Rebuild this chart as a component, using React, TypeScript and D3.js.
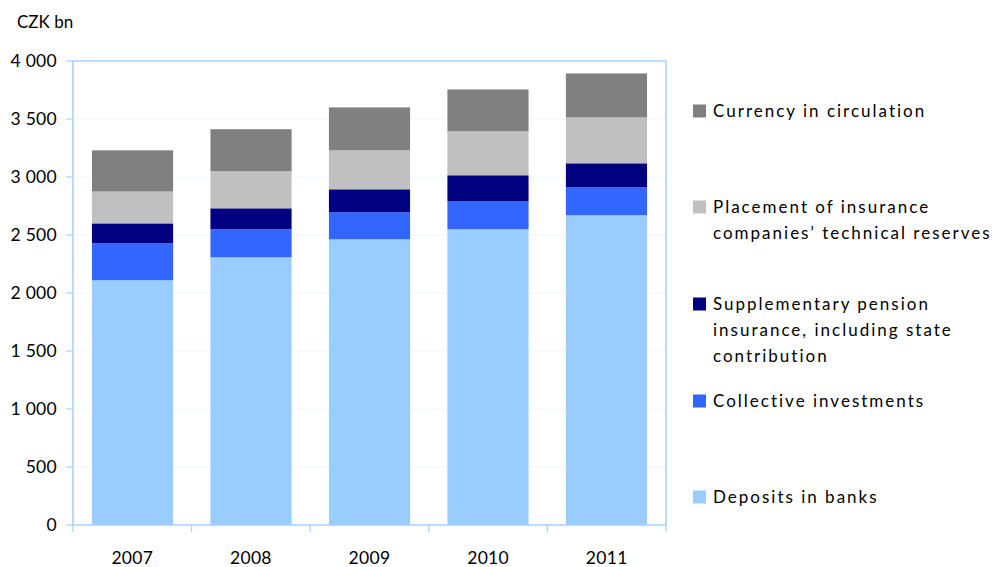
import React from "react";
import * as d3 from "d3";

const years = ["2007", "2008", "2009", "2010", "2011"];
const deposits = [2110, 2308, 2463, 2550, 2670];
const collective = [320, 242, 233, 241, 241];
const supplementary = [170, 180, 198, 224, 207];
const placement = [275, 320, 336, 379, 396];
const currency = [355, 362, 370, 361, 379];

const seriesNames = [
  "Deposits in banks",
  "Collective investments",
  "Supplementary pension insurance, including state contribution",
  "Placement of insurance companies’ technical reserves",
  "Currency in circulation",
];
const seriesColors = ["#99ccff", "#3366ff", "#000080", "#c0c0c0", "#808080"];
const yTicks = [0, 500, 1000, 1500, 2000, 2500, 3000, 3500, 4000];

const legendItems = [
  { key: 4, lines: ["Currency in circulation"], y: 111 },
  { key: 3, lines: ["Placement of insurance", "companies’ technical reserves"], y: 207 },
  { key: 2, lines: ["Supplementary pension", "insurance, including state", "contribution"], y: 304 },
  { key: 1, lines: ["Collective investments"], y: 401 },
  { key: 0, lines: ["Deposits in banks"], y: 497 },
];

export default function App() {
  const W = 999, H = 567;
  const left = 73, right = 666, top = 61, bottom = 525;
  const x = d3.scaleBand<string>().domain(years).range([left, right]).paddingInner(0.315).paddingOuter(0.16);
  const y = d3.scaleLinear().domain([0, 4000]).range([bottom, top]);
  const data = years.map((yr, i) => ({
    year: yr,
    s0: deposits[i], s1: collective[i], s2: supplementary[i], s3: placement[i], s4: currency[i],
  }));
  const stack = d3.stack<any>().keys(["s0", "s1", "s2", "s3", "s4"]);
  const layers = stack(data);
  const step = (right - left) / years.length;
  const font = "Lato, 'Open Sans', sans-serif";

  return (
    <svg width={W} height={H} style={{ position: "absolute", left: 0, top: 0, background: "#fff" }}>
      <rect x={0} y={0} width={W} height={H} fill="#fff" />
      {yTicks.filter(t => t > 0 && t < 4000).map(t => (
        <line key={t} x1={left} x2={right} y1={y(t)} y2={y(t)} stroke="#eef5fc" strokeWidth={1} />
      ))}
      {layers.map((layer, li) => (
        <g key={li} fill={seriesColors[li]}>
          {layer.map((d, i) => (
            <rect key={i} x={x(years[i])} width={x.bandwidth()} y={y(d[1])} height={y(d[0]) - y(d[1])} />
          ))}
        </g>
      ))}
      <rect x={left} y={top} width={right - left} height={bottom - top} fill="none" stroke="#a8d0f8" strokeWidth={1.5} />
      {yTicks.map(t => (
        <g key={t}>
          <line x1={left - 7} x2={left} y1={y(t)} y2={y(t)} stroke="#a8d0f8" strokeWidth={1.2} />
          <text x={57} y={y(t)} dy="0.35em" textAnchor="end" fontFamily={font} fontSize={17.5} letterSpacing={0.3} fill="#000">
            {d3.format(",")(t).replace(/,/g, " ")}
          </text>
        </g>
      ))}
      {d3.range(years.length + 1).map(i => (
        <line key={i} x1={left + i * step} x2={left + i * step} y1={bottom} y2={bottom + 7} stroke="#a8d0f8" strokeWidth={1.2} />
      ))}
      {years.map((yr, i) => (
        <text key={yr} x={left + (i + 0.5) * step} y={558} dy="0.35em" textAnchor="middle" fontFamily={font} fontSize={17.5} letterSpacing={0.3} fill="#000">
          {yr}
        </text>
      ))}
      <text x={17} y={22} dy="0.35em" fontFamily={font} fontSize={17} fill="#000">CZK bn</text>
      {legendItems.map(item => (
        <g key={item.key}>
          <rect x={693} y={item.y - 6.5} width={13} height={13} fill={seriesColors[item.key]} />
          {item.lines.map((ln, j) => (
            <text key={j} x={713} y={item.y + j * 26} dy="0.35em" fontFamily={font} fontSize={17} letterSpacing={2} fill="#000">
              {ln}
            </text>
          ))}
        </g>
      ))}
    </svg>
  );
}
